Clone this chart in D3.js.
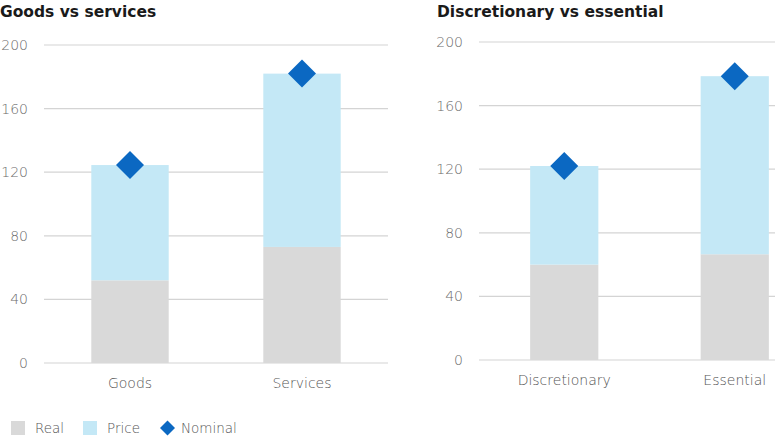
<!DOCTYPE html>
<html>
<head>
<meta charset="utf-8">
<script src="https://cdn.jsdelivr.net/npm/d3@7"></script>
<style>
  body { margin: 0; background: #fff; }
  text { font-family: 'DejaVu Sans', 'Noto Sans', sans-serif; }
</style>
</head>
<body>
<svg id="chart" width="775" height="438"></svg>
<script>
// Données des deux graphiques
var titles = ['Goods vs services', 'Discretionary vs essential']
var categories = [['Goods', 'Services'], ['Discretionary', 'Essential']]
var realValues = [[52, 73], [60, 66.5]]
var priceValues = [[72.5, 109], [62, 112]]
var nominalValues = [[124.5, 182], [122, 178.5]]
var tickValues = [0, 40, 80, 120, 160, 200]
var legendLabels = ['Real', 'Price', 'Nominal']

var colors = { real: '#d9d9d9', price: '#c4e8f6', nominal: '#0b68c2' }

// Position de chaque panneau
var panels = [
  { titleX: 0, gridLeft: 44, gridRight: 388, bandRight: 388, top: 45, bottom: 363, tickX: 28, padding: 0.55 },
  { titleX: 437, gridLeft: 479, gridRight: 775, bandRight: 820, top: 42, bottom: 360, tickX: 463, padding: 0.6 }
]

var svg = d3.select('#chart')

/**
 * @param p
 * @param i
 */
function drawPanel (p, i) {
  var g = svg.append('g')

  var yScale = d3.scaleLinear().domain([0, 200]).range([p.bottom, p.top])
  var xScale = d3.scaleBand()
    .domain(categories[i])
    .range([p.gridLeft, p.bandRight])
    .paddingInner(p.padding)
    .paddingOuter(p.padding / 2)

  g.append('text')
    .attr('x', p.titleX)
    .attr('y', 17)
    .attr('font-size', 15.5)
    .attr('font-weight', 'bold')
    .attr('fill', '#1a1a1a')
    .text(titles[i])

  // grille
  g.selectAll('.grid')
    .data(tickValues)
    .enter()
    .append('line')
    .attr('x1', p.gridLeft)
    .attr('x2', p.gridRight)
    .attr('y1', function (d) { return yScale(d) })
    .attr('y2', function (d) { return yScale(d) })
    .attr('stroke', '#d4d4d4')
    .attr('stroke-width', 1.2)

  g.selectAll('.tick-label')
    .data(tickValues)
    .enter()
    .append('text')
    .attr('x', p.tickX)
    .attr('y', function (d) { return yScale(d) })
    .attr('dy', '0.35em')
    .attr('text-anchor', 'end')
    .attr('font-size', 14)
    .attr('font-weight', 300)
    .attr('fill', '#6b6b6b')
    .text(function (d) { return d })

  var rows = categories[i].map(function (c, j) {
    return { cat: c, real: realValues[i][j], price: priceValues[i][j], nominal: nominalValues[i][j] }
  })

  g.selectAll('.real')
    .data(rows)
    .enter()
    .append('rect')
    .attr('x', function (d) { return xScale(d.cat) })
    .attr('width', xScale.bandwidth())
    .attr('y', function (d) { return yScale(d.real) })
    .attr('height', function (d) { return yScale(0) - yScale(d.real) })
    .attr('fill', colors.real)

  g.selectAll('.price')
    .data(rows)
    .enter()
    .append('rect')
    .attr('x', function (d) { return xScale(d.cat) })
    .attr('width', xScale.bandwidth())
    .attr('y', function (d) { return yScale(d.real + d.price) })
    .attr('height', function (d) { return yScale(d.real) - yScale(d.real + d.price) })
    .attr('fill', colors.price)

  g.selectAll('.nominal')
    .data(rows)
    .enter()
    .append('path')
    .attr('d', 'M0,-14L14,0L0,14L-14,0Z')
    .attr('transform', function (d) {
      return 'translate(' + (xScale(d.cat) + xScale.bandwidth() / 2) + ',' + yScale(d.nominal) + ')'
    })
    .attr('fill', colors.nominal)

  g.selectAll('.cat-label')
    .data(categories[i])
    .enter()
    .append('text')
    .attr('x', function (d) { return xScale(d) + xScale.bandwidth() / 2 })
    .attr('y', p.bottom + 25)
    .attr('text-anchor', 'middle')
    .attr('font-size', 14)
    .attr('font-weight', 300)
    .attr('fill', '#555')
    .text(function (d) { return d })
}

panels.forEach(drawPanel)

// Légende
var legendX = [11, 83, 160]
var legend = svg.append('g')
legendLabels.forEach(function (label, k) {
  var item = legend.append('g').attr('transform', 'translate(' + legendX[k] + ',428)')
  if (k < 2) {
    item.append('rect')
      .attr('x', 0)
      .attr('y', -7)
      .attr('width', 14)
      .attr('height', 14)
      .attr('fill', k === 0 ? colors.real : colors.price)
  } else {
    item.append('path')
      .attr('d', 'M7.5,-7.5L15,0L7.5,7.5L0,0Z')
      .attr('fill', colors.nominal)
  }
  item.append('text')
    .attr('x', k === 2 ? 21 : 24)
    .attr('y', 0)
    .attr('dy', '0.35em')
    .attr('font-size', 13.5)
    .attr('font-weight', 300)
    .attr('fill', '#555')
    .text(label)
})
</script>
</body>
</html>
